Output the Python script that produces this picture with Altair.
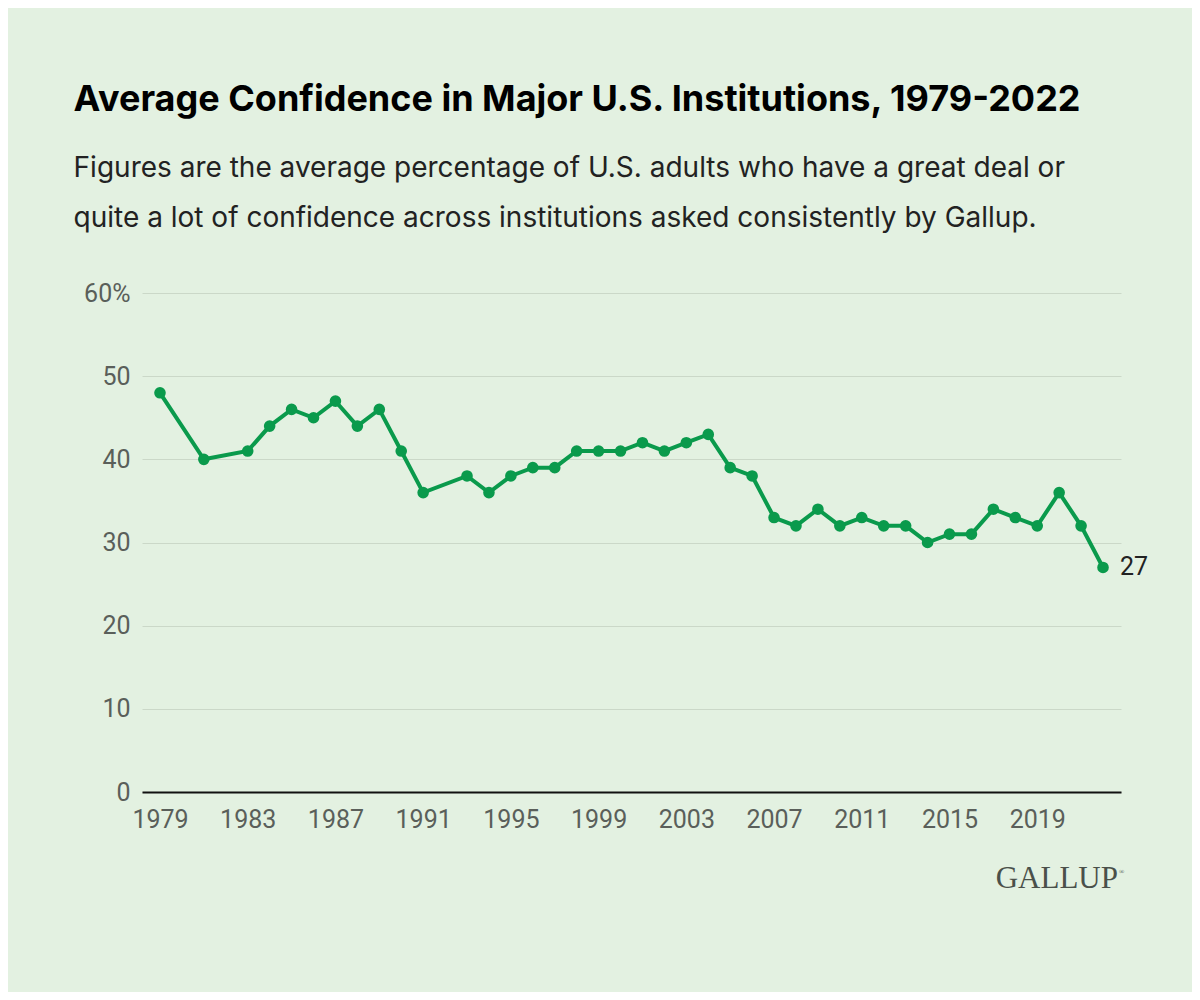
import altair as alt
import pandas as pd

years = [1979, 1981, 1983, 1984, 1985, 1986, 1987, 1988, 1989, 1990, 1991,
         1993, 1994, 1995, 1996, 1997, 1998, 1999, 2000, 2001, 2002, 2003,
         2004, 2005, 2006, 2007, 2008, 2009, 2010, 2011, 2012, 2013, 2014,
         2015, 2016, 2017, 2018, 2019, 2020, 2021, 2022]
values = [48, 40, 41, 44, 46, 45, 47, 44, 46, 41, 36,
          38, 36, 38, 39, 39, 41, 41, 41, 42, 41, 42,
          43, 39, 38, 33, 32, 34, 32, 33, 32, 32, 30,
          31, 31, 34, 33, 32, 36, 32, 27]
x_ticks = [1979, 1983, 1987, 1991, 1995, 1999, 2003, 2007, 2011, 2015, 2019]
y_ticks = [0, 10, 20, 30, 40, 50, 60]

title_text = "Average Confidence in Major U.S. Institutions, 1979-2022"
subtitle_lines = [
    "Figures are the average percentage of U.S. adults who have a great deal or",
    "quite a lot of confidence across institutions asked consistently by Gallup.",
]
brand = ["GALLUP"]
brand_mark = ["®"]

df = pd.DataFrame({"year": years, "value": values})
last_df = df.tail(1)
brand_df = pd.DataFrame({"t": brand})
mark_df = pd.DataFrame({"t": brand_mark})

GREEN = "#0a9a4c"
FONT = "Inter"
AXFONT = "Roboto"

x_enc = alt.X("year:Q",
              scale=alt.Scale(domain=[1978.18, 2022.82], nice=False, zero=False),
              axis=alt.Axis(values=x_ticks, format="d", title=None, grid=False,
                            ticks=False, domain=True, domainColor="#111111",
                            domainWidth=2, labelPadding=15, labelFontSize=25,
                            labelColor="#5a5f5a", labelFont=AXFONT))
y_enc = alt.Y("value:Q",
              scale=alt.Scale(domain=[0, 60], nice=False),
              axis=alt.Axis(values=y_ticks, title=None, grid=True,
                            gridColor="#cbd8c8", gridWidth=1, ticks=False,
                            domain=False, labelPadding=12, labelFontSize=25,
                            labelColor="#5a5f5a", labelFont=AXFONT,
                            labelExpr="datum.value == 60 ? '60%' : datum.label"))

line = alt.Chart(df).mark_line(color=GREEN, strokeWidth=4).encode(x=x_enc, y=y_enc)
pts = alt.Chart(df).mark_circle(color=GREEN, size=135, opacity=1).encode(x="year:Q", y="value:Q")
lbl = alt.Chart(last_df).mark_text(align="left", baseline="middle", dx=17, fontSize=25,
                                   font=AXFONT, color="#222222").encode(
    x="year:Q", y="value:Q", text="value:Q")
logo = alt.Chart(brand_df).mark_text(align="right", baseline="alphabetic",
                                     font="Liberation Serif", fontSize=31,
                                     color="#4a504a").encode(
    x=alt.value(976), y=alt.value(595), text="t:N")
logo_r = alt.Chart(mark_df).mark_text(align="left", baseline="top",
                                      font="Liberation Serif", fontSize=7,
                                      color="#4a504a").encode(
    x=alt.value(977), y=alt.value(575), text="t:N")

chart = alt.layer(line, pts, lbl, logo, logo_r).properties(
    width=979, height=499,
    padding={"left": 134, "top": 285, "right": 71, "bottom": 200},
    autosize=alt.AutoSizeParams(type="none"),
    background="#e3f1e1",
    title=alt.TitleParams(
        text=title_text, subtitle=subtitle_lines, anchor="start", frame="bounds",
        dx=-10,
        font=FONT, fontSize=36, fontWeight=700, color="#000000",
        subtitleFont=FONT, subtitleFontSize=28, subtitleColor="#222222",
        subtitleLineHeight=50, subtitlePadding=36, offset=47),
).configure_view(stroke=None)

chart.save("out.html", embed_options={"renderer": "svg", "actions": False})
